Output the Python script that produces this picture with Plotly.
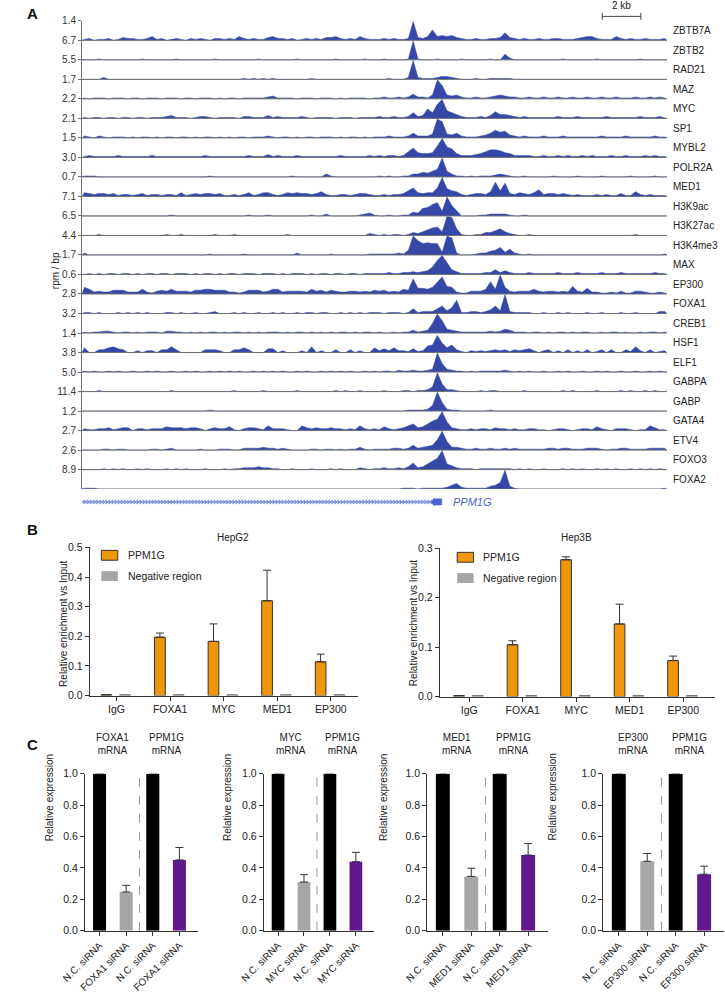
import plotly.graph_objects as go

W, H = 725, 998


def fx(p):
    return p / W


def fy(p):
    return 1 - p / H


FONT = "Liberation Sans, Arial, Helvetica, sans-serif"
SIGNAL_BLUE = "#3548A8"
GENE_BLUE = "#4A64D2"
ORANGE = "#F0960A"
GREY = "#A6A6A6"
PURPLE = "#5E1A8C"
BLACK = "#000000"
AXIS = "#333333"
TRACK_LINE = "#707070"

# ---------------- Panel A data ----------------
TRACK_NAMES = ["ZBTB7A", "ZBTB2", "RAD21", "MAZ", "MYC", "SP1", "MYBL2", "POLR2A",
               "MED1", "H3K9ac", "H3K27ac", "H3K4me3", "MAX", "EP300", "FOXA1",
               "CREB1", "HSF1", "ELF1", "GABPA", "GABP", "GATA4", "ETV4", "FOXO3", "FOXA2"]
TRACK_MAX = ["1.4", "6.7", "5.5", "1.7", "2.2", "2.1", "1.5", "3.0", "0.7", "7.1", "6.5",
             "4.4", "1.7", "0.6", "2.8", "3.2", "1.4", "3.8", "5.0", "11.4", "1.2", "2.7",
             "2.6", "8.9"]
# signal per 0.25 kb bin, level 0..K (K = track maximum)
ZBTB7A = ("1201120132" "2112412012" "1021210221" "2142121134" "2212012121" "3342121421"
          "11212112K3" "24B4545321" "1211223832" "1211"
          "2112211123" "4421114212" "1121112")
ZBTB2 = ("0001000000" "0010000001" "0000000100" "0000001000" "0000100000" "0010000010"
         "00100001K1" "0001000010" "0000100620" "0000"
         "0000010000" "0010000000" "0100000")
RAD21 = ("0000200000" "0000000000" "0000000000" "0001010101" "0000000100" "0000000000"
         "00010002K2" "1112332100" "0100111110" "0000"
         "0000000000" "0000000000" "0000000")
MAZ = ("1011101110" "1101110111" "0110111010" "1101111123" "1111011101" "1101011110"
       "1121121252" "214KE43421" "1211234322" "1121"
       "1211211211" "2112112111" "2112121")
MYC = ("1011011011" "0110111231" "1101221011" "1102211131" "2111121011" "1101110111"
       "1211211262" "3A6FK86421" "1121374432" "1211"
       "1111211121" "1111211111" "1211121")
SP1 = ("2102101110" "1011010110" "1101011010" "1011011121" "0110101101" "1101011010"
       "1112111252" "224KH43521" "1123586732" "1211"
       "1211121111" "1112111121" "1111211")
MYBL2 = ("1211111211" "1111211111" "1111121111" "1111211131" "2111211111" "1112111112"
         "12122126A5" "445CKB9422" "2346887542" "2221"
         "1211212112" "1211121121" "1121211")
POLR2A = ("1110000000" "0000000000" "0000001000" "0000000000" "0001000000" "3100000000"
          "0101001133" "5468K63110" "1011123210" "0100"
          "0001000010" "0001000001" "0000100")
MED1 = ("4323323122" "1231221221" "4123233231" "1212412442" "1243433235" "2112212332"
        "1121223694" "3449K86521" "23325F6E32" "4324"
        "7233232121" "1121211311" "5212111")
H3K9AC = ("0000000000" "0000000010" "0000000000" "0000100010" "0000000100" "2000000123"
          "1001001143" "89CE5KB600" "0011222210" "0100"
          "0000000000" "0000000000" "0000000")
H3K27AC = ("0001000000" "0000000100" "1000000100" "0100000000" "0010000000" "0000000002"
           "1010110132" "46894KJ710" "0113357421" "0010"
           "0000000000" "0000000000" "1000000")
H3K4ME3 = ("2000000000" "0000000000" "0000001000" "0001000000" "0000200000" "0100000001"
           "11111215KF" "CDCC3KI200" "0122458362" "1010"
           "0000000000" "0000000000" "0000001")
MAX = ("0101011011" "0101101101" "1101011010" "1101110111" "0101110101" "1011011011"
       "1112112232" "348FKC5311" "1112252421" "1121"
       "1111211121" "1112111211" "1111211")
EP300 = ("7523224442" "2252134353" "3324455444" "2212444235" "5233332534" "2432233232"
         "43423254G6" "657CI87211" "3335D5K732" "3335"
         "3233232832" "6221121311" "3321121")
FOXA1 = ("1101000101" "0101000110" "1001001200" "0101001001" "0100101101" "1001010101"
         "1101110151" "2225836E11" "2212483K21" "1110"
         "0100101000" "1001000100" "1000022")
CREB1 = ("1011221011" "0101110221" "1010101101" "0110101011" "1010110101" "0101101011"
         "0100101131" "23AKD43211" "1111212431" "1101"
         "1010110101" "1001011010" "0101101")
HSF1 = ("5003356430" "0202203363" "0000033320" "0335300044" "0200020602" "0030030200"
        "5242522141" "278IA58310" "2121232313" "2342"
        "0230203020" "3013030031" "6203012")
ELF1 = ("1010010100" "1001010010" "0101001010" "1010010101" "0100101001" "0101010010"
        "1011021121" "123K932110" "1011111210" "1010"
        "0100101001" "0010100100" "1001010")
GABPA = ("0001000000" "0000000010" "0000000000" "0100000100" "0000100000" "0010100100"
         "0010001101" "125K822100" "0010110000" "0100"
         "0000010100" "0010000101" "0010100")
GABP = ("0000000000" "0000000000" "0000001000" "0000000000" "0000000000" "0000000000"
        "0000000111" "126K921100" "0000100000" "0000"
        "0000000000" "0000000000" "0000000")
GATA4 = ("2112231233" "0221222433" "3233202322" "4102332152" "2210053232" "2322121521"
         "2142123573" "47ACK93211" "2122132212" "1122"
         "1101221012" "2142102221" "0115311")
ETV4 = ("0000110110" "0000110120" "0000100011" "1002222322" "1210000110" "1101011310"
        "1111221252" "345BK93321" "1211211212" "1111"
        "1122122111" "2221011221" "1112222")
FOXO3 = ("0000101010" "0101000101" "0100010001" "0112223221" "1001000100" "0101000210"
         "1121121372" "369CK64211" "1011111110" "1010"
         "0100010101" "0010101001" "0101010")
FOXA2 = ("1110000000" "0000000000" "0000000000" "0000000000" "0000000000" "0000000000"
         "0000001110" "1111124621" "1111347K31" "0000"
         "0000000000" "0000000000" "0000001")
TRACK_SIGNALS = [ZBTB7A, ZBTB2, RAD21, MAZ, MYC, SP1, MYBL2, POLR2A, MED1, H3K9AC, H3K27AC,
                 H3K4ME3, MAX, EP300, FOXA1, CREB1, HSF1, ELF1, GABPA, GABP, GATA4, ETV4,
                 FOXO3, FOXA2]
LEVELS = "0123456789ABCDEFGHIJK"
BIN_KB = 0.25
REGION_KB = 30.25
SCALEBAR_START_KB = 26.9
SCALEBAR_KB = 2.0
GENE_NAME = "PPM1G"
GENE_START_KB = 0.0
GENE_EXON_KB = (18.2, 18.6)

# ---------------- Panel B data ----------------
CHIP_TARGETS = ["IgG", "FOXA1", "MYC", "MED1", "EP300"]
HEPG2_PPM1G = [0.003, 0.197, 0.183, 0.320, 0.114]
HEPG2_PPM1G_ERR = [0.0, 0.014, 0.059, 0.103, 0.026]
HEPG2_NEG = [0.003, 0.003, 0.003, 0.003, 0.003]
HEP3B_PPM1G = [0.002, 0.105, 0.277, 0.147, 0.073]
HEP3B_PPM1G_ERR = [0.0, 0.008, 0.006, 0.040, 0.009]
HEP3B_NEG = [0.002, 0.002, 0.002, 0.002, 0.002]

# ---------------- Panel C data ----------------
KD_TARGETS = ["FOXA1", "MYC", "MED1", "EP300"]
NC_LEVEL = 1.0
KD_TARGET_MRNA = [0.247, 0.310, 0.346, 0.442]
KD_TARGET_ERR = [0.042, 0.047, 0.052, 0.050]
KD_PPM1G_MRNA = [0.451, 0.440, 0.482, 0.360]
KD_PPM1G_ERR = [0.079, 0.059, 0.073, 0.051]

fig = go.Figure()
shapes = []
annotations = []

# ================= Panel A =================
n_tracks = len(TRACK_NAMES)
for i, sig in enumerate(TRACK_SIGNALS):
    if len(sig) != 121:
        raise ValueError(f"{TRACK_NAMES[i]} has {len(sig)} bins")
    base = n_tracks - 1 - i
    vals = [LEVELS.index(c) / 20 for c in sig]
    xs = [(k + 0.5) * BIN_KB for k in range(len(vals))]
    ys = [base + 0.97 * v for v in vals]
    fig.add_trace(go.Scatter(
        x=[0] + xs + [REGION_KB], y=[base] + ys + [base], fill="toself",
        fillcolor=SIGNAL_BLUE, mode="lines", line=dict(width=0.5, color=SIGNAL_BLUE),
        hoverinfo="skip", showlegend=False, xaxis="x", yaxis="y"))
    shapes.append(dict(type="line", xref="x domain", yref="y", x0=0, x1=1, y0=base, y1=base,
                       line=dict(color=TRACK_LINE, width=1), layer="above"))
    annotations.append(dict(text=TRACK_NAMES[i], xref="paper", yref="y", x=fx(669), y=base + 0.5,
                            xanchor="left", yanchor="middle", showarrow=False,
                            font=dict(size=10, color="#222222")))

# gene model
chev_x = []
xk = GENE_START_KB + 0.1
while xk < GENE_EXON_KB[0] - 0.05:
    chev_x.append(xk)
    xk += 0.16
fig.add_trace(go.Scatter(x=[GENE_START_KB, GENE_EXON_KB[0]], y=[0, 0], mode="lines",
                         line=dict(color=GENE_BLUE, width=0.8), hoverinfo="skip",
                         showlegend=False, xaxis="x8", yaxis="y8"))
fig.add_trace(go.Scatter(x=chev_x, y=[0] * len(chev_x), mode="markers",
                         marker=dict(symbol="triangle-left-open", size=3.5, color=GENE_BLUE,
                                     line=dict(width=0.6, color=GENE_BLUE)),
                         hoverinfo="skip", showlegend=False, xaxis="x8", yaxis="y8"))
e0, e1 = GENE_EXON_KB
fig.add_trace(go.Scatter(x=[e0 - 0.15, e0, e0, e1, e1, e0, e0, e0 - 0.15],
                         y=[0, 0.55, 0.45, 0.45, -0.45, -0.45, -0.55, 0],
                         fill="toself", fillcolor=GENE_BLUE, mode="lines",
                         line=dict(width=0.5, color=GENE_BLUE), hoverinfo="skip",
                         showlegend=False, xaxis="x8", yaxis="y8"))
annotations.append(dict(text=f"<i>{GENE_NAME}</i>", xref="x8", yref="y8", x=e1 + 0.5, y=0,
                        xanchor="left", yanchor="middle", showarrow=False,
                        font=dict(size=11, color=GENE_BLUE)))

# scale bar
sb0, sb1 = SCALEBAR_START_KB, SCALEBAR_START_KB + SCALEBAR_KB
fig.add_trace(go.Scatter(x=[sb0, sb1], y=[0.3, 0.3], mode="lines+markers",
                         line=dict(color="#444444", width=1),
                         marker=dict(symbol="line-ns", size=5, line=dict(width=1, color="#444444")),
                         hoverinfo="skip", showlegend=False, xaxis="x9", yaxis="y9"))
annotations.append(dict(text=f"{SCALEBAR_KB:.0f} kb", xref="x9", yref="y9", x=(sb0 + sb1) / 2,
                        y=0.55, xanchor="center", yanchor="bottom", showarrow=False,
                        font=dict(size=10, color="#222222")))

annotations.append(dict(text="rpm / bp", xref="paper", yref="paper", x=fx(25), y=fy(247),
                        textangle=-90, showarrow=False, font=dict(size=10, color="#222222")))


# ================= Panel B =================
def chip_panel(xa, ya, ppm, ppm_err, neg):
    fig.add_trace(go.Bar(x=list(range(len(CHIP_TARGETS))), y=ppm, width=0.2, offset=-0.29,
                         marker=dict(color=ORANGE, line=dict(color=AXIS, width=1)),
                         error_y=dict(type="data", array=ppm_err, arrayminus=[0] * len(ppm),
                                      symmetric=False, color=AXIS, thickness=1, width=4),
                         showlegend=False, xaxis=xa, yaxis=ya, hoverinfo="skip"))
    fig.add_trace(go.Bar(x=list(range(len(CHIP_TARGETS))), y=neg, width=0.2, offset=0.06,
                         marker=dict(color=GREY, line=dict(color="#555555", width=0.8)),
                         showlegend=False, xaxis=xa, yaxis=ya, hoverinfo="skip"))


chip_panel("x2", "y2", HEPG2_PPM1G, HEPG2_PPM1G_ERR, HEPG2_NEG)
chip_panel("x3", "y3", HEP3B_PPM1G, HEP3B_PPM1G_ERR, HEP3B_NEG)

for title, cx, leg_x, leg_y, ytitle_x in [("HepG2", 198, 80, 556, 33), ("Hep3B", 590, 448, 558, 403)]:
    annotations.append(dict(text=title, xref="paper", yref="paper", x=fx(cx), y=fy(538),
                            showarrow=False, font=dict(size=10, color="#222222")))
    shapes.append(dict(type="rect", xref="paper", yref="paper", x0=fx(leg_x), x1=fx(leg_x + 17),
                       y0=fy(leg_y - 5), y1=fy(leg_y + 5), fillcolor=ORANGE,
                       line=dict(color=AXIS, width=1)))
    shapes.append(dict(type="rect", xref="paper", yref="paper", x0=fx(leg_x), x1=fx(leg_x + 17),
                       y0=fy(leg_y + 16), y1=fy(leg_y + 26), fillcolor=GREY,
                       line=dict(color=GREY, width=0)))
    annotations.append(dict(text="PPM1G", xref="paper", yref="paper", x=fx(leg_x + 25), y=fy(leg_y),
                            xanchor="left", yanchor="middle", showarrow=False,
                            font=dict(size=10.5, color="#222222")))
    annotations.append(dict(text="Negative region", xref="paper", yref="paper", x=fx(leg_x + 25),
                            y=fy(leg_y + 21), xanchor="left", yanchor="middle", showarrow=False,
                            font=dict(size=10.5, color="#222222")))
    annotations.append(dict(text="Relative enrichment vs Input", xref="paper", yref="paper",
                            x=fx(ytitle_x), y=fy(625), textangle=-90, showarrow=False,
                            font=dict(size=10, color="#222222")))

# ================= Panel C =================
C_DOMAINS = [(63, 180), (248, 362), (417, 542), (599, 724)]
for j, tgt in enumerate(KD_TARGETS):
    xa, ya = f"x{4 + j}", f"y{4 + j}"
    vals = [NC_LEVEL, KD_TARGET_MRNA[j], NC_LEVEL, KD_PPM1G_MRNA[j]]
    errs = [0, KD_TARGET_ERR[j], 0, KD_PPM1G_ERR[j]]
    fig.add_trace(go.Bar(x=[0, 1, 2, 3], y=vals, width=0.49,
                         marker=dict(color=[BLACK, GREY, BLACK, PURPLE], line=dict(width=0)),
                         error_y=dict(type="data", array=errs, arrayminus=[0, 0, 0, 0],
                                      symmetric=False, color=AXIS, thickness=1, width=4),
                         showlegend=False, xaxis=xa, yaxis=ya, hoverinfo="skip"))
    shapes.append(dict(type="line", xref=xa, yref=ya, x0=1.5, x1=1.5, y0=0, y1=NC_LEVEL,
                       line=dict(color="#999999", width=1, dash="dash")))
    annotations.append(dict(text=f"{tgt}<br>mRNA", xref=xa, yref="paper", x=0.5, y=fy(761),
                            showarrow=False, font=dict(size=10, color="#222222")))
    annotations.append(dict(text="PPM1G<br>mRNA", xref=xa, yref="paper", x=2.5, y=fy(761),
                            showarrow=False, font=dict(size=10, color="#222222")))
    annotations.append(dict(text="Relative expression", xref="paper", yref="paper",
                            x=fx(C_DOMAINS[j][0] - 45), y=fy(847), textangle=-90, showarrow=False,
                            font=dict(size=10, color="#222222")))

# panel letters
for letter, ly in [("A", 8), ("B", 530), ("C", 747)]:
    annotations.append(dict(text=f"<b>{letter}</b>", xref="paper", yref="paper", x=fx(1), y=fy(ly),
                            xanchor="left", yanchor="middle", showarrow=False,
                            font=dict(size=15, color="#111111")))

# ================= Layout =================
layout = dict(
    width=W, height=H, margin=dict(l=0, r=0, t=0, b=0),
    paper_bgcolor="white", plot_bgcolor="white",
    font=dict(family=FONT, size=10, color="#222222"),
    showlegend=False, barmode="overlay", hovermode=False,
    shapes=shapes, annotations=annotations,
    xaxis=dict(domain=[fx(60), fx(665)], range=[0, REGION_KB], visible=False, anchor="y"),
    yaxis=dict(domain=[fy(489), fy(15)], range=[0, n_tracks], anchor="x",
               tickvals=[n_tracks - i for i in range(n_tracks)], ticktext=TRACK_MAX,
               ticks="outside", ticklen=3, tickcolor=TRACK_LINE, showline=True,
               linecolor=TRACK_LINE, linewidth=1, showgrid=False, zeroline=False,
               tickfont=dict(size=10, color="#333333")),
    xaxis8=dict(domain=[fx(60), fx(665)], range=[0, REGION_KB], visible=False, anchor="y8"),
    yaxis8=dict(domain=[fy(509), fy(495)], range=[-1, 1], visible=False, anchor="x8"),
    xaxis9=dict(domain=[fx(60), fx(665)], range=[0, REGION_KB], visible=False, anchor="y9"),
    yaxis9=dict(domain=[fy(15), fy(0)], range=[0, 1], visible=False, anchor="x9"),
)


def bar_xaxis(dom, rng, ticktext, yname, angle=0, size=10.5):
    return dict(domain=[fx(dom[0]), fx(dom[1])], range=rng, anchor=yname,
                tickvals=list(range(len(ticktext))), ticktext=ticktext, tickangle=angle,
                ticks="outside", ticklen=4, tickcolor=AXIS, showline=True, linecolor=AXIS,
                linewidth=1, showgrid=False, zeroline=False, tickfont=dict(size=size, color="#222222"))


def bar_yaxis(top, bottom, rng, dtick, xname):
    return dict(domain=[fy(bottom), fy(top)], range=rng, anchor=xname, dtick=dtick,
                tickformat=".1f", ticks="outside", ticklen=4, tickcolor=AXIS, showline=True,
                linecolor=AXIS, linewidth=1, showgrid=False, zeroline=False,
                tickfont=dict(size=10.5, color="#222222"))


layout["xaxis2"] = bar_xaxis((68, 345), [-0.5, 4.5], CHIP_TARGETS, "y2")
layout["yaxis2"] = bar_yaxis(548, 698, [0, 0.5], 0.1, "x2")
layout["xaxis3"] = bar_xaxis((430, 715), [-0.55, 4.6], CHIP_TARGETS, "y3")
layout["yaxis3"] = bar_yaxis(549, 699, [0, 0.3], 0.1, "x3")
for j, tgt in enumerate(KD_TARGETS):
    labels = ["N.C. siRNA", f"{tgt} siRNA", "N.C. siRNA", f"{tgt} siRNA"]
    layout[f"xaxis{4 + j}"] = bar_xaxis(C_DOMAINS[j], [-0.55, 3.7], labels, f"y{4 + j}",
                                        angle=-45, size=10)
    layout[f"yaxis{4 + j}"] = bar_yaxis(777, 936, [0, 1.0], 0.2, f"x{4 + j}")

fig.update_layout(**layout)
fig.write_html("out.html", config={"displayModeBar": False},
               post_script="document.body.style.margin='0px';")
